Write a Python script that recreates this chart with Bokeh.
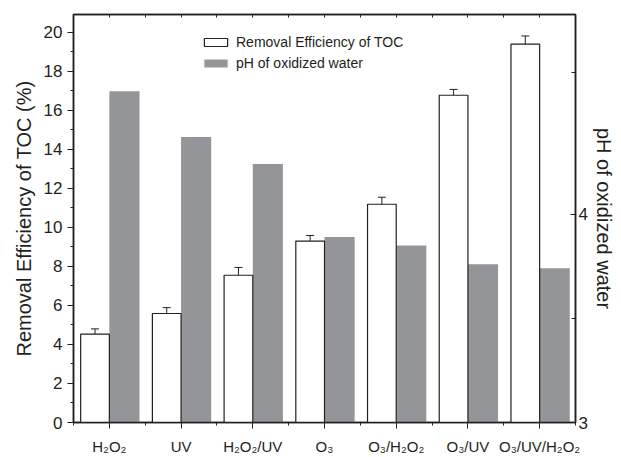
import numpy as np
from bokeh.plotting import figure
from bokeh.models import (ColumnDataSource, Range1d, LinearAxis, FixedTicker,
                          Whisker, TeeHead, Legend, LegendItem)
from bokeh.embed import file_html
from bokeh.resources import INLINE

# ---- data ----
categories = ["H\u2082O\u2082", "UV", "H\u2082O\u2082/UV", "O\u2083", "O\u2083/H\u2082O\u2082",
              "O\u2083/UV", "O\u2083/UV/H\u2082O\u2082"]
toc_removal = [4.53, 5.59, 7.55, 9.30, 11.19, 16.78, 19.40]
toc_error = [0.27, 0.30, 0.40, 0.29, 0.36, 0.30, 0.42]
ph_values = [4.59, 4.37, 4.24, 3.89, 3.85, 3.76, 3.74]
left_ticks = list(range(0, 21, 2))
right_ticks = [3, 4]
right_minor_ticks = [3.5, 4.68]

FONT = "Liberation Sans"
INK = "#231f20"
GRAY = "#939598"

pos = np.arange(1, len(categories) + 1)
minor_x = list(np.arange(0.5, len(categories) + 1, 1.0))
src = ColumnDataSource(dict(
    xw=pos - 0.2, xg=pos + 0.21,
    toc=toc_removal, ph=ph_values,
    upper=np.array(toc_removal) + np.array(toc_error),
    lower=np.array(toc_removal) - np.array(toc_error),
))

p = figure(width=621, height=457, x_range=Range1d(0.5, 7.5), y_range=Range1d(0, 20.92),
           output_backend="svg", toolbar_location=None,
           min_border_left=73, min_border_top=14, min_border_right=46, min_border_bottom=35)
p.extra_y_ranges = {"ph": Range1d(3, 4.958)}
p.xgrid.visible = False
p.ygrid.visible = False
p.outline_line_color = INK
p.outline_line_width = 1.5
p.background_fill_color = "white"
p.border_fill_color = "white"

r_gray = p.vbar(x="xg", width=0.42, bottom=3, top="ph", source=src, y_range_name="ph",
                fill_color=GRAY, line_color=None)
r_white = p.vbar(x="xw", width=0.4, bottom=0, top="toc", source=src,
                 fill_color="white", line_color=INK, line_width=1.2)

wh = Whisker(source=src, base="xw", upper="upper", lower="lower",
             line_color=INK, line_width=1,
             upper_head=TeeHead(size=8, line_color=INK, line_width=1),
             lower_head=TeeHead(size=8, line_color=INK, line_width=1))
p.add_layout(wh)


def style_axis(ax):
    ax.axis_line_color = INK
    ax.axis_line_width = 1.5
    ax.major_tick_line_color = INK
    ax.minor_tick_line_color = INK
    ax.major_label_text_font = FONT
    ax.major_label_text_color = INK
    ax.axis_label_text_font = FONT
    ax.axis_label_text_font_style = "normal"
    ax.axis_label_text_color = INK


# bottom axis
xa = p.xaxis[0]
style_axis(xa)
xa.ticker = FixedTicker(ticks=list(pos), minor_ticks=minor_x)
xa.major_label_overrides = {int(i): c for i, c in zip(pos, categories)}
xa.major_label_text_font_size = "15px"
xa.major_label_standoff = 9
xa.major_tick_in = 0
xa.major_tick_out = 6
xa.minor_tick_in = 0
xa.minor_tick_out = 3

# left axis
ya = p.yaxis[0]
style_axis(ya)
ya.ticker = FixedTicker(ticks=left_ticks, minor_ticks=list(range(1, 21, 2)))
ya.major_label_text_font_size = "17px"
ya.major_label_standoff = 5
ya.major_tick_in = 0
ya.major_tick_out = 6
ya.minor_tick_in = 0
ya.minor_tick_out = 3
ya.axis_label = "Removal Efficiency of TOC (%)"
ya.axis_label_text_font_size = "20px"
ya.axis_label_standoff = 6

# right axis (pH)
ra = LinearAxis(y_range_name="ph")
style_axis(ra)
ra.ticker = FixedTicker(ticks=right_ticks, minor_ticks=right_minor_ticks)
ra.major_label_text_font_size = "17px"
ra.major_label_standoff = 3
ra.major_tick_in = 5
ra.major_tick_out = 0
ra.minor_tick_in = 4
ra.minor_tick_out = 0
ra.axis_label = "pH of oxidized water"
ra.axis_label_text_font_size = "20px"
ra.axis_label_standoff = 2
p.add_layout(ra, "right")

# top mirror ticks (no labels)
ta = LinearAxis()
style_axis(ta)
ta.ticker = FixedTicker(ticks=list(pos), minor_ticks=minor_x)
ta.major_label_overrides = {int(i): "" for i in pos}
ta.major_label_text_font_size = "1px"
ta.major_label_standoff = 0
ta.major_tick_in = 3
ta.major_tick_out = 0
ta.minor_tick_in = 3
ta.minor_tick_out = 0
p.add_layout(ta, "above")

legend = Legend(items=[LegendItem(label="Removal Efficiency of TOC", renderers=[r_white]),
                       LegendItem(label="pH of oxidized water", renderers=[r_gray])],
                location=(128, 351), padding=0, margin=0, spacing=5,
                glyph_width=29, glyph_height=10, label_height=10, label_standoff=6,
                label_text_font=FONT, label_text_font_size="14px", label_text_color=INK,
                border_line_color=None, background_fill_alpha=0)
p.add_layout(legend)

open("out.html", "w").write(file_html(p, INLINE))
